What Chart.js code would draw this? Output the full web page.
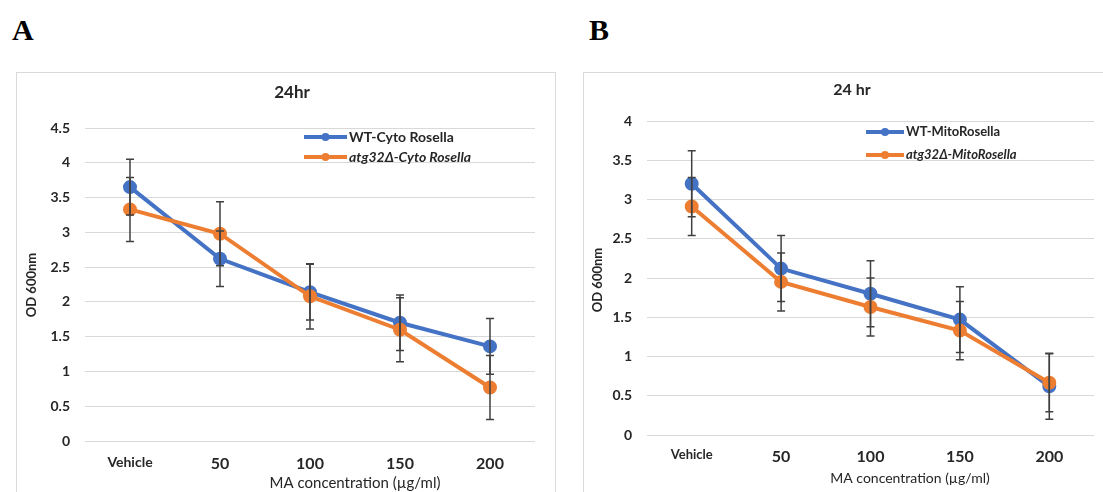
<!DOCTYPE html>
<html>
<head>
<meta charset="utf-8">
<script src="https://cdn.jsdelivr.net/npm/chart.js@4"></script>
<style>
  html, body { margin:0; padding:0; background:#fff; overflow:hidden; }
  body { width:1103px; height:492px; position:relative; }
  .lbl { position:absolute; font-family:"Liberation Serif","Times New Roman",serif; font-weight:bold; font-size:30px; line-height:30px; color:#000; }
  .frame { position:absolute; border:1px solid #d9d9d9; box-sizing:border-box; }
  canvas { position:absolute; }
</style>
</head>
<body>
<div class="lbl" style="left:12px; top:15px;">A</div>
<div class="lbl" style="left:589px; top:15px;">B</div>
<div class="frame" style="left:16px; top:72px; width:540px; height:440px;"></div>
<div class="frame" style="left:583px; top:72px; width:540px; height:440px;"></div>
<canvas id="chartA" width="538" height="419" style="left:17px; top:73px;"></canvas>
<canvas id="chartB" width="519" height="419" style="left:584px; top:73px;"></canvas>
<script>
// ---- data ----
const categories = ['Vehicle', '50', '100', '150', '200'];

// Panel A (24hr, Cyto Rosella)
const wtCytoA      = [3.65, 2.62, 2.14, 1.70, 1.36];
const wtCytoErrA   = [0.40, 0.40, 0.40, 0.40, 0.40];
const atgCytoA     = [3.33, 2.98, 2.08, 1.60, 0.77];
const atgCytoErrA  = [0.46, 0.46, 0.47, 0.46, 0.46];

// Panel B (24 hr, MitoRosella)
const wtMitoB      = [3.20, 2.12, 1.80, 1.47, 0.62];
const wtMitoErrB   = [0.42, 0.42, 0.42, 0.42, 0.42];
const atgMitoB     = [2.91, 1.95, 1.63, 1.33, 0.665];
const atgMitoErrB  = [0.37, 0.37, 0.37, 0.37, 0.37];

const titleA = '24hr';
const titleB = '24 hr';
const legendA = ['WT-Cyto Rosella', 'atg32Δ-Cyto Rosella'];
const legendB = ['WT-MitoRosella', 'atg32Δ-MitoRosella'];
const yTitle = 'OD 600nm';
const xTitle = 'MA concentration (µg/ml)';

const BLUE = '#4472C4';
const ORANGE = '#ED7D31';
const FONT = 'Lato, "Open Sans", sans-serif';

const decoPlugin = {
  id: 'deco',
  afterDatasetsDraw(chart) {
    const ctx = chart.ctx, xs = chart.scales.x, ys = chart.scales.y;
    ctx.save();
    ctx.strokeStyle = '#404040';
    ctx.lineWidth = 1.5;
    chart.data.datasets.forEach(ds => {
      ds.data.forEach((v, i) => {
        const e = ds.errors[i];
        const px = xs.getPixelForValue(i);
        const t = ys.getPixelForValue(v + e);
        const b = ys.getPixelForValue(v - e);
        ctx.beginPath();
        ctx.moveTo(px, t); ctx.lineTo(px, b);
        ctx.moveTo(px - 4, t); ctx.lineTo(px + 4, t);
        ctx.moveTo(px - 4, b); ctx.lineTo(px + 4, b);
        ctx.stroke();
      });
    });
    ctx.restore();
  },
  afterDraw(chart, args, o) {
    const ctx = chart.ctx;
    ctx.save();
    ctx.fillStyle = '#262626';
    // title
    ctx.font = 'bold ' + o.titleSize + 'px ' + FONT;
    ctx.textAlign = 'center'; ctx.textBaseline = 'middle';
    ctx.fillText(o.title, o.titleX, o.titleY);
    // x axis title
    ctx.font = o.xTitleSize + 'px ' + FONT;
    ctx.fillText(xTitle, o.xTitleX, o.xTitleY);
    // y axis title
    ctx.save();
    ctx.translate(o.yTitleX, o.yTitleY);
    ctx.rotate(-Math.PI / 2);
    ctx.font = 'bold ' + o.yTitleSize + 'px ' + FONT;
    ctx.fillText(yTitle, 0, 0);
    ctx.restore();
    // legend
    const cols = [BLUE, ORANGE];
    o.legend.forEach((txt, i) => {
      const y = o.legY[i];
      ctx.strokeStyle = cols[i]; ctx.fillStyle = cols[i];
      ctx.lineWidth = 4;
      ctx.beginPath(); ctx.moveTo(o.legX0, y); ctx.lineTo(o.legX1, y); ctx.stroke();
      ctx.beginPath(); ctx.arc((o.legX0 + o.legX1) / 2, y, 4, 0, Math.PI * 2); ctx.fill();
      ctx.fillStyle = '#262626';
      ctx.textAlign = 'left';
      ctx.font = (i === 1 ? 'italic ' : '') + 'bold ' + o.legSize + 'px ' + FONT;
      ctx.fillText(txt, o.legX1 + 2, y);
    });
    ctx.restore();
  }
};

function makeChart(id, s) {
  return new Chart(document.getElementById(id), {
    type: 'line',
    data: {
      labels: categories,
      datasets: [
        { label: s.legend[0], data: s.wt, errors: s.wtErr, borderColor: BLUE, backgroundColor: BLUE,
          borderWidth: 4, pointRadius: 5, pointBackgroundColor: BLUE, pointBorderColor: BLUE, order: 1, tension: 0 },
        { label: s.legend[1], data: s.atg, errors: s.atgErr, borderColor: ORANGE, backgroundColor: ORANGE,
          borderWidth: 4, pointRadius: 5, pointBackgroundColor: ORANGE, pointBorderColor: ORANGE, order: 0, tension: 0 }
      ]
    },
    options: {
      responsive: false,
      animation: false,
      devicePixelRatio: 1,
      layout: { padding: { left: 0, top: s.padTop, right: s.padRight, bottom: 0 } },
      plugins: {
        legend: { display: false },
        title: { display: false },
        tooltip: { enabled: false },
        deco: s.deco
      },
      scales: {
        x: {
          type: 'category', offset: true,
          grid: { display: false, drawTicks: false }, border: { display: false },
          ticks: {
            padding: s.xPad, color: '#262626', maxRotation: 0,
            font: c => ({ family: FONT, weight: 'bold', size: c.index === 0 ? s.vehSize : s.numSize })
          },
          afterFit: sc => { sc.height = s.xHeight; }
        },
        y: {
          min: 0, max: s.yMax,
          grid: { color: '#d9d9d9', lineWidth: 1, drawTicks: false },
          border: { display: false },
          ticks: {
            stepSize: 0.5, padding: 15, color: '#262626',
            font: { family: FONT, weight: 'bold', size: s.yTickSize },
            callback: v => String(v)
          },
          afterFit: sc => { sc.width = s.yWidth; }
        }
      }
    },
    plugins: [decoPlugin]
  });
}

makeChart('chartA', {
  wt: wtCytoA, wtErr: wtCytoErrA, atg: atgCytoA, atgErr: atgCytoErrA, legend: legendA,
  yMax: 4.5, padTop: 55, padRight: 20, yWidth: 68, xHeight: 51, xPad: 13,
  vehSize: 14, numSize: 16, yTickSize: 14,
  deco: { title: titleA, titleSize: 17, titleX: 275, titleY: 20,
          xTitleSize: 15, xTitleX: 338, xTitleY: 410,
          yTitleSize: 13, yTitleX: 15, yTitleY: 212,
          legend: legendA, legX0: 287, legX1: 330, legY: [64, 84], legSize: 14 }
});

makeChart('chartB', {
  wt: wtMitoB, wtErr: wtMitoErrB, atg: atgMitoB, atgErr: atgMitoErrB, legend: legendB,
  yMax: 4, padTop: 48, padRight: 6, yWidth: 63, xHeight: 57, xPad: 12,
  vehSize: 13, numSize: 16, yTickSize: 14,
  deco: { title: titleB, titleSize: 16, titleX: 268, titleY: 17,
          xTitleSize: 14, xTitleX: 326, xTitleY: 405,
          yTitleSize: 13, yTitleX: 14, yTitleY: 207,
          legend: legendB, legX0: 282, legX1: 320, legY: [59, 82], legSize: 13 }
});
</script>
</body>
</html>
